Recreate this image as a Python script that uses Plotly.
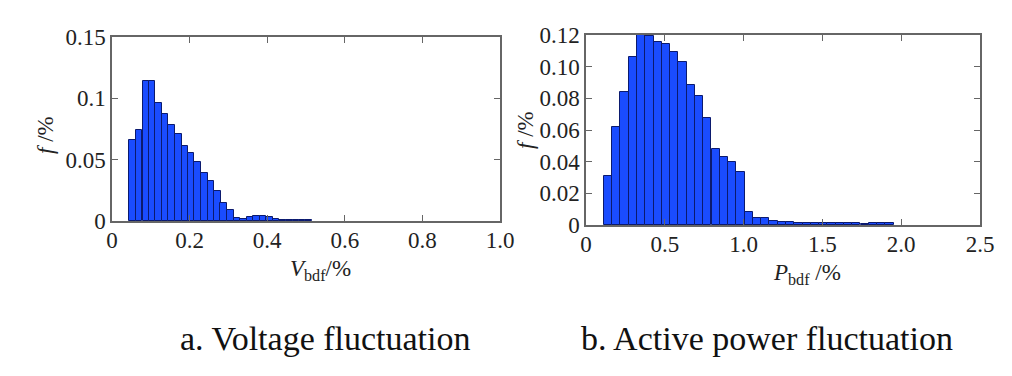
import plotly.graph_objects as go

# ---- data ----
v_bins = [0.053, 0.070, 0.087, 0.103, 0.120, 0.137, 0.154, 0.171, 0.188, 0.204,
          0.221, 0.238, 0.255, 0.272, 0.288, 0.305, 0.322, 0.339, 0.356, 0.373,
          0.389, 0.406, 0.423, 0.440, 0.457, 0.474, 0.490, 0.507]
v_freq = [0.066, 0.074, 0.114, 0.114, 0.0965, 0.087, 0.078, 0.0707, 0.061, 0.0557,
          0.0484, 0.0389, 0.0323, 0.0245, 0.0147, 0.009, 0.0026, 0.002, 0.003, 0.004,
          0.004, 0.003, 0.002, 0.0012, 0.001, 0.0008, 0.0008, 0.0006]
v_bin_width = 0.0168

p_bins = [0.140, 0.193, 0.245, 0.298, 0.350, 0.403, 0.455, 0.508, 0.560, 0.613,
          0.665, 0.718, 0.770, 0.823, 0.875, 0.928, 0.980, 1.033, 1.085, 1.138,
          1.190, 1.243, 1.295, 1.348, 1.400, 1.453, 1.505, 1.558, 1.610, 1.663,
          1.715, 1.768, 1.820, 1.873, 1.925]
p_freq = [0.0312, 0.0621, 0.0842, 0.1063, 0.1200, 0.1196, 0.1154, 0.1143, 0.109, 0.1032,
          0.0882, 0.0815, 0.0678, 0.0478, 0.0432, 0.040, 0.0333, 0.008, 0.0042, 0.0042,
          0.0027, 0.002, 0.0018, 0.0015, 0.0012, 0.001, 0.001, 0.0012, 0.0015, 0.0012,
          0.001, 0.0008, 0.001, 0.0012, 0.001]
p_bin_width = 0.0525

v_xticks = [0, 0.2, 0.4, 0.6, 0.8, 1.0]
v_xtext = ["0", "0.2", "0.4", "0.6", "0.8", "1.0"]
v_yticks = [0, 0.05, 0.1, 0.15]
v_ytext = ["0", "0.05", "0.1", "0.15"]
p_xticks = [0, 0.5, 1.0, 1.5, 2.0, 2.5]
p_xtext = ["0", "0.5", "1.0", "1.5", "2.0", "2.5"]
p_yticks = [0, 0.02, 0.04, 0.06, 0.08, 0.10, 0.12]
p_ytext = ["0", "0.02", "0.04", "0.06", "0.08", "0.10", "0.12"]

captions = ["a. Voltage fluctuation", "b. Active power fluctuation"]

# ---- styles ----
FONT = "Liberation Serif, Times New Roman, serif"
BAR = "#1a4cff"
EDGE = "#0b1a6e"
AXC = "#666666"
W, H = 1012, 376

fig = go.Figure()
fig.add_trace(go.Bar(x=v_bins, y=v_freq, width=v_bin_width, marker=dict(color=BAR, line=dict(color=EDGE, width=1)),
                     xaxis="x", yaxis="y", showlegend=False))
fig.add_trace(go.Bar(x=p_bins, y=p_freq, width=p_bin_width, marker=dict(color=BAR, line=dict(color=EDGE, width=1)),
                     xaxis="x2", yaxis="y2", showlegend=False))

def ax(domain, rng, tv, tt, anchor, standoff):
    return dict(domain=domain, range=rng, tickvals=tv, ticktext=tt, anchor=anchor,
                showline=True, linecolor=AXC, linewidth=1.5, mirror="allticks",
                ticks="inside", ticklen=6, tickcolor=AXC, showgrid=False, zeroline=False,
                automargin=False, fixedrange=True, ticklabelstandoff=standoff,
                tickfont=dict(family=FONT, size=23, color="#222222"))

fig.update_layout(
    width=W, height=H, autosize=False,
    margin=dict(l=0, r=0, t=0, b=0, pad=0),
    paper_bgcolor="white", plot_bgcolor="white",
    bargap=0,
    xaxis=ax([112 / W, 500 / W], [0, 1.0], v_xticks, v_xtext, "y", -2),
    yaxis=ax([1 - 221 / H, 1 - 37 / H], [0, 0.15], v_yticks, v_ytext, "x", 0),
    xaxis2=ax([586 / W, 980 / W], [0, 2.5], p_xticks, p_xtext, "y2", -2),
    yaxis2=ax([1 - 225 / H, 1 - 35 / H], [0, 0.12], p_yticks, p_ytext, "x2", 0),
)

ann_font = dict(family=FONT, size=23, color="#222222")
fig.add_annotation(text="<i>V</i><sub>bdf</sub>/%", x=320 / W, y=1 - 270 / H, xref="paper", yref="paper",
                   showarrow=False, font=ann_font, xanchor="center", yanchor="middle")
fig.add_annotation(text="<i>P</i><sub>bdf</sub> /%", x=807 / W, y=1 - 274 / H, xref="paper", yref="paper",
                   showarrow=False, font=ann_font, xanchor="center", yanchor="middle")
fig.add_annotation(text="<i>f</i> /%", x=45 / W, y=1 - 135 / H, xref="paper", yref="paper", textangle=-90,
                   showarrow=False, font=ann_font, xanchor="center", yanchor="middle")
fig.add_annotation(text="<i>f</i> /%", x=525 / W, y=1 - 130 / H, xref="paper", yref="paper", textangle=-90,
                   showarrow=False, font=ann_font, xanchor="center", yanchor="middle")

cap_font = dict(family=FONT, size=34, color="#111111")
fig.add_annotation(text=captions[0], x=325 / W, y=1 - 338 / H, xref="paper", yref="paper",
                   showarrow=False, font=cap_font, xanchor="center", yanchor="middle")
fig.add_annotation(text=captions[1], x=767 / W, y=1 - 338 / H, xref="paper", yref="paper",
                   showarrow=False, font=cap_font, xanchor="center", yanchor="middle")

fig.write_html("out.html", config={"displayModeBar": False},
               post_script="document.body.style.margin='0px';document.body.style.overflow='hidden';")
